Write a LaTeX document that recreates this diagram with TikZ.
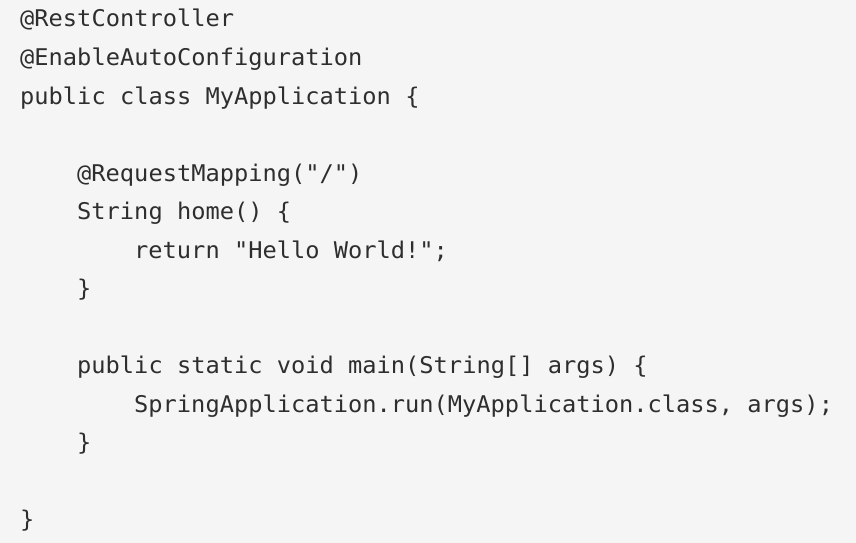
\documentclass[tikz,border=0pt]{standalone}
\usepackage{fontspec}
\setmonofont{DejaVu Sans Mono}[FakeStretch=1.03]
\definecolor{bgc}{HTML}{F5F5F5}
\definecolor{txt}{HTML}{2E2E2E}
\begin{document}
\begin{tikzpicture}[x=1pt,y=1pt,
  code/.style={anchor=base west, inner sep=0pt, text=txt, font=\ttfamily\fontsize{23}{23}\selectfont}]
\fill[bgc] (0,0) rectangle (856,-543);
\useasboundingbox (0,0) rectangle (856,-543);
\node[code] (l1)  at (20,-27)     {@RestController};
\node[code] (l2)  at (20,-65.5)   {@EnableAutoConfiguration};
\node[code] (l3)  at (20,-104)    {public class MyApplication \{};
\node[code] (l5)  at (77,-181)    {@RequestMapping("/")};
\node[code] (l6)  at (77,-219.5)  {String home() \{};
\node[code] (l7)  at (134,-258)   {return "Hello World!";};
\node[code] (l8)  at (77,-296.5)  {\}};
\node[code] (l10) at (77,-373.5)  {public static void main(String[] args) \{};
\node[code] (l11) at (134,-412)   {SpringApplication.run(MyApplication.class, args);};
\node[code] (l12) at (77,-450.5)  {\}};
\node[code] (l14) at (20,-527.5)  {\}};
\end{tikzpicture}
\end{document}
